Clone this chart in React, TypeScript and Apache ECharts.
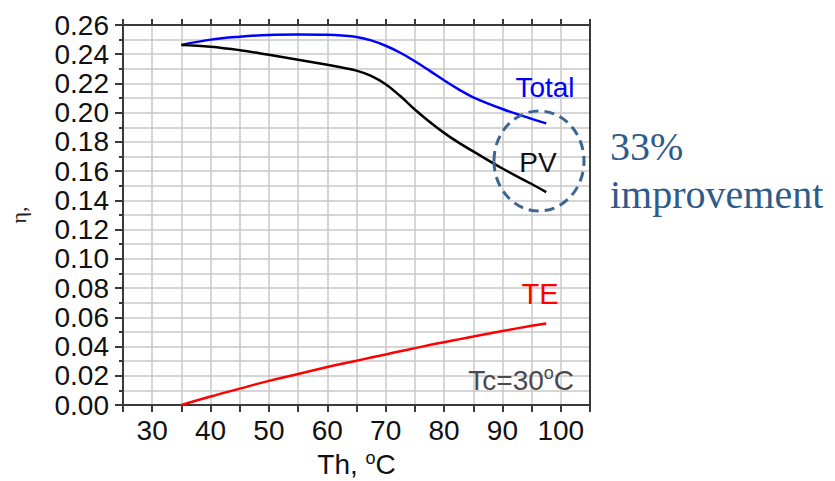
import React, { useEffect, useRef } from "react";
import * as echarts from "echarts";

const thValues = [35, 40, 45, 50, 55, 60, 62.5, 65, 67.5, 70, 72.5, 75, 77.5, 80, 82.5, 85, 90, 95, 97.5];
const totalEff = [0.2464, 0.25, 0.252, 0.2532, 0.2535, 0.2533, 0.2528, 0.2518, 0.2495, 0.2458, 0.241, 0.2352, 0.2288, 0.2222, 0.216, 0.2105, 0.2025, 0.1958, 0.1927];
const pvEff = [0.2464, 0.2452, 0.2428, 0.2396, 0.2362, 0.2328, 0.2309, 0.2288, 0.2252, 0.2195, 0.2114, 0.2022, 0.1938, 0.1862, 0.1795, 0.1735, 0.1618, 0.1512, 0.1456];
const teEff = [0, 0.0058, 0.0112, 0.0165, 0.0212, 0.026, 0.0282, 0.0303, 0.0325, 0.0346, 0.0368, 0.0389, 0.041, 0.043, 0.0449, 0.0468, 0.0506, 0.0542, 0.0558];

const xMin = 25;
const xMax = 105;
const yMin = 0;
const yMax = 0.26;

const pairs = (ys: number[]) => thValues.map((x, i) => [x, ys[i]]);

export default function App() {
  const ref = useRef<HTMLDivElement>(null);
  useEffect(() => {
    if (!ref.current) return;
    const chart = echarts.init(ref.current, null, { renderer: "svg" });
    const font = "Liberation Sans, Arial, sans-serif";
    const gridLine = { show: true, lineStyle: { color: "#c9c9c9", width: 1.5 } };
    const axisLine = { show: true, onZero: false, lineStyle: { color: "#3a3a3a", width: 2 } };
    const lineCommon = { type: "line", smooth: 0.4, showSymbol: false, z: 5 };
    chart.setOption({
      animation: false,
      backgroundColor: "#ffffff",
      grid: { left: 123, right: 245, top: 25, bottom: 76, containLabel: false, outerBoundsMode: "none" },
      xAxis: [
        {
          type: "value",
          min: xMin,
          max: xMax,
          interval: 5,
          position: "bottom",
          axisLine,
          axisTick: { show: true, length: 7, lineStyle: { color: "#3a3a3a", width: 2 } },
          splitLine: gridLine,
          axisLabel: {
            color: "#111",
            fontSize: 28,
            fontFamily: font,
            margin: 11,
            formatter: (v: number) => (v % 10 === 0 && v >= 30 && v <= 100 ? String(v) : ""),
          },
          name: "Th, {sup|o}C",
          nameLocation: "middle",
          nameGap: 40,
          nameTextStyle: {
            color: "#111",
            fontSize: 28,
            fontFamily: font,
            rich: { sup: { fontSize: 18, verticalAlign: "top", padding: [0, 0, 14, 0], color: "#111", fontFamily: font } },
          },
        },
        {
          type: "value",
          min: xMin,
          max: xMax,
          interval: 5,
          position: "top",
          axisLine,
          axisTick: { show: true, length: 6, lineStyle: { color: "#3a3a3a", width: 2 } },
          splitLine: { show: false },
          axisLabel: { show: false },
        },
      ],
      yAxis: [
        {
          type: "value",
          min: yMin,
          max: yMax,
          interval: 0.02,
          position: "left",
          axisLine,
          axisTick: { show: true, length: 8, lineStyle: { color: "#3a3a3a", width: 2 } },
          minorTick: { show: true, splitNumber: 2, length: 4, lineStyle: { color: "#3a3a3a", width: 2 } },
          splitLine: gridLine,
          minorSplitLine: gridLine,
          axisLabel: {
            color: "#111",
            fontSize: 28,
            fontFamily: font,
            margin: 14,
            formatter: (v: number) => v.toFixed(2),
          },
          name: "η,",
          nameLocation: "middle",
          nameGap: 94,
          nameRotate: 90,
          nameTextStyle: { color: "#222", fontSize: 22, fontFamily: "Liberation Serif, serif" },
        },
        {
          type: "value",
          min: yMin,
          max: yMax,
          interval: 0.02,
          position: "right",
          axisLine,
          axisTick: { show: false },
          splitLine: { show: false },
          axisLabel: { show: false },
        },
      ],
      series: [
        { ...lineCommon, name: "Total", data: pairs(totalEff), lineStyle: { color: "#0000ff", width: 2.5 } },
        { ...lineCommon, name: "PV", data: pairs(pvEff), lineStyle: { color: "#000000", width: 2.5 } },
        { ...lineCommon, name: "TE", data: pairs(teEff), lineStyle: { color: "#ff0000", width: 2.5 } },
      ],
      graphic: [
        {
          type: "text",
          x: 545,
          y: 87,
          style: { text: "Total", fill: "#0000ff", fontSize: 28, fontFamily: font, align: "center", verticalAlign: "middle" },
          z: 10,
        },
        {
          type: "text",
          x: 538,
          y: 162,
          style: { text: "PV", fill: "#111", fontSize: 28, fontFamily: font, align: "center", verticalAlign: "middle" },
          z: 10,
        },
        {
          type: "text",
          x: 540,
          y: 294,
          style: { text: "TE", fill: "#ff0000", fontSize: 29, fontFamily: font, align: "center", verticalAlign: "middle" },
          z: 10,
        },
        {
          type: "text",
          x: 574,
          y: 380,
          style: {
            text: "Tc=30{sup|o}C",
            fill: "#4a4a4a",
            fontSize: 28,
            fontFamily: font,
            align: "right",
            verticalAlign: "middle",
            rich: { sup: { fontSize: 18, verticalAlign: "top", padding: [0, 0, 14, 0], fill: "#4a4a4a", fontFamily: font } },
          },
          z: 10,
        },
        {
          type: "ellipse",
          shape: { cx: 539, cy: 161, rx: 45, ry: 50 },
          style: { fill: "none", stroke: "#3d6591", lineWidth: 3, lineDash: [10, 6] },
          z: 11,
        },
        {
          type: "text",
          x: 610,
          y: 146,
          style: { text: "33%", fill: "#2e5b8a", fontSize: 40, fontFamily: "Liberation Serif, Times New Roman, serif", align: "left", verticalAlign: "middle" },
          z: 10,
        },
        {
          type: "text",
          x: 610,
          y: 194,
          style: { text: "improvement", fill: "#2e5b8a", fontSize: 40, fontFamily: "Liberation Serif, Times New Roman, serif", align: "left", verticalAlign: "middle" },
          z: 10,
        },
      ],
    });
    return () => chart.dispose();
  }, []);
  return <div ref={ref} style={{ position: "absolute", left: 0, top: 0, width: 835, height: 481 }} />;
}
